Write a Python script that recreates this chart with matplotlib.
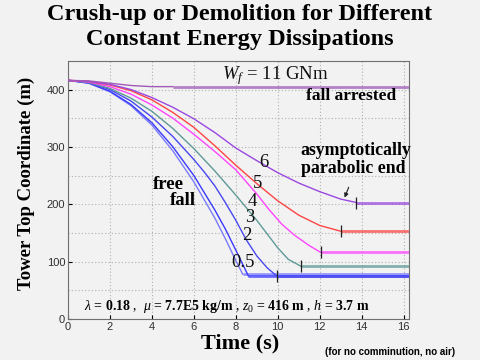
import matplotlib
matplotlib.use("Agg")
import matplotlib.pyplot as plt

# ---------------- data ----------------
t_free = [0, 1, 2, 3, 4, 5, 6, 7, 7.5, 8, 8.33]
z_free = [416, 411, 396, 372, 338, 293, 239, 176, 140, 102, 78]

t_05 = [0, 1, 2, 3, 4, 5, 6, 7, 7.5, 8, 8.6]
z_05 = [416, 411, 397, 374, 342, 300, 250, 190, 157, 120, 75]

t_2 = [0, 1, 2, 3, 4, 5, 6, 6.5, 7, 7.5, 8, 8.5, 9, 9.5, 9.95]
z_2 = [416, 412, 400, 380, 352, 318, 278, 256, 232, 203, 172, 138, 110, 89, 75]

t_3 = [0, 1, 2, 3, 4, 5, 6, 7, 8, 9, 9.5, 10, 10.5, 11.1]
z_3 = [416, 412, 402, 385, 362, 332, 297, 258, 216, 172, 148, 124, 104, 92]

t_4 = [0, 1, 2, 3, 4, 5, 6, 7, 8, 9, 9.6, 10.2, 10.8, 11.5, 12.05]
z_4 = [416, 413, 405, 392, 373, 350, 322, 292, 260, 218, 190, 165, 146, 128, 116]

t_5 = [0, 1, 2, 3, 4, 5, 6, 7, 8, 9, 10, 11, 12, 13]
z_5 = [416, 414, 408, 398, 382, 360, 334, 302, 268, 236, 206, 181, 163, 153]

t_6 = [0, 1, 2, 3, 4, 5, 6, 7, 8, 9, 10, 11, 12, 13, 13.75]
z_6 = [416, 414, 409, 400, 386, 369, 349, 325, 298, 276, 255, 237, 222, 209, 203]

t_11 = [0, 1, 2, 3, 4, 5]
z_11 = [416, 415, 411, 407, 405, 405]

curve_labels = ["free fall", "0.5", "2", "3", "4", "5", "6", "11"]
x_ticks = [0, 2, 4, 6, 8, 10, 12, 14, 16]
y_ticks = [0, 100, 200, 300, 400]

# ---------------- styling ----------------
bg = "#f2f2f2"
serif = ["Liberation Serif", "DejaVu Serif"]
sans = ["Liberation Sans", "DejaVu Sans"]
plt.rcParams["mathtext.fontset"] = "custom"
plt.rcParams["mathtext.rm"] = "Liberation Serif"
plt.rcParams["mathtext.it"] = "Liberation Serif:italic"
plt.rcParams["mathtext.bf"] = "Liberation Serif:bold"

fig = plt.figure(figsize=(4.8, 3.6), dpi=100, facecolor=bg)
ax = fig.add_axes([0.1417, 0.114, 0.710, 0.717], facecolor=bg)

XMAX = 16.25
ax.set_xlim(0, XMAX)
ax.set_ylim(0, 450)

curves = [
    (t_free, z_free, "#7a7aff", False),
    (t_05, z_05, "#3a3aff", False),
    (t_2, z_2, "#4848f0", True),
    (t_3, z_3, "#5e9a96", True),
    (t_4, z_4, "#ff44ff", True),
    (t_5, z_5, "#ff4444", True),
    (t_6, z_6, "#9a48e0", True),
    (t_11, z_11, "#a05ab8", False),
]

for t, z, c, tick in curves:
    ax.plot(t, z, color=c, lw=1.0, zorder=3)
    ax.plot([t[-1], XMAX], [z[-1], z[-1]], color=c, lw=2.0, alpha=0.75,
            solid_capstyle="butt", zorder=3)
    if tick:
        ax.plot([t[-1]], [z[-1]], marker="|", color="#202020",
                markersize=9, markeredgewidth=0.9, zorder=4)

# grid
ax.set_xticks(x_ticks)
ax.set_yticks(y_ticks)
ax.set_yticks(range(50, 450, 100), minor=True)
ax.grid(True, which="both", color="#b0b0b0", linestyle=(0, (1, 2)), lw=0.8)
ax.tick_params(which="both", direction="in", length=3, labelsize=8,
               labelcolor="#303030", pad=2)
ax.tick_params(which="minor", length=0)
for lab in ax.get_xticklabels() + ax.get_yticklabels():
    lab.set_family(sans)
for s in ax.spines.values():
    s.set_color("#707070")
    s.set_linewidth(0.8)

# text annotations
ax.text(7.33, 424, r"$W_f$ = 11 GNm", family=serif, fontsize=13.5,
        va="center", ha="left", color="#111111")
ax.text(13.5, 388, "fall arrested", family=serif, fontsize=12.5,
        fontweight="bold", ha="center", va="center")
ax.text(11.1, 293, "asymptotically", family=serif, fontsize=12.8,
        fontweight="bold", ha="left", va="center")
ax.text(11.1, 263, "parabolic end", family=serif, fontsize=12.8,
        fontweight="bold", ha="left", va="center")
ax.annotate("", xy=(13.14, 207), xytext=(13.43, 234),
            arrowprops=dict(arrowstyle="-|>", color="#202020", lw=0.8,
                            mutation_scale=6))
ax.text(4.8, 235, "free", family=serif, fontsize=13.5, fontweight="bold",
        ha="center", va="center")
ax.text(5.48, 207, "fall", family=serif, fontsize=13.5, fontweight="bold",
        ha="center", va="center")

num_pos = {"6": (9.33, 273), "5": (9.05, 237), "4": (8.81, 205),
           "3": (8.67, 177), "2": (8.52, 146), "0.5": (8.33, 98)}
for lab, (tx, zy) in num_pos.items():
    ax.text(tx, zy, lab, family=serif, fontsize=13.5, ha="center", va="center",
            color="#111111")

ax.text(0.76, 21,
        r"$\lambda$ = $\mathbf{0.18}$ ,  $\mu$ = $\mathbf{7.7E5\ kg/m}$ , "
        r"$z_0$ = $\mathbf{416\ m}$ , $h$ = $\mathbf{3.7\ m}$",
        family=serif, fontsize=10, ha="left", va="center")

# titles / labels
fig.text(0.5, 0.925, "Crush-up or Demolition for Different\nConstant Energy Dissipations",
         family=serif, fontsize=17.5, fontweight="bold", ha="center",
         va="center", linespacing=1.25)
fig.text(0.5, 0.047, "Time (s)", family=serif, fontsize=16, fontweight="bold",
         ha="center", va="center")
fig.text(0.054, 0.49, "Tower Top Coordinate (m)", family=serif, fontsize=13.5,
         fontweight="bold", ha="center", va="center", rotation=90)
fig.text(0.813, 0.022, "(for no comminution, no air)", family=sans,
         fontsize=7, fontweight="bold", ha="center", va="center")

fig.savefig("out.png", dpi=100, facecolor=bg)
